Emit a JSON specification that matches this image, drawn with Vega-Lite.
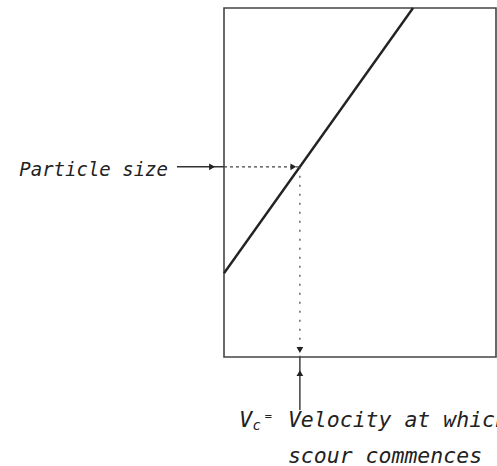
{
  "$schema": "https://vega.github.io/schema/vega-lite/v6.json",
  "width": 272,
  "height": 349,
  "autosize": "none",
  "padding": {"left": 224, "top": 8, "right": 1, "bottom": 109},
  "background": "white",
  "config": {"view": {"stroke": "#444", "strokeWidth": 1.6}},
  "encoding": {
    "x": {"field": "velocity", "type": "quantitative", "scale": {"domain": [0, 10], "nice": false, "zero": false}, "axis": null},
    "y": {"field": "size", "type": "quantitative", "scale": {"domain": [0, 10], "nice": false, "zero": false}, "axis": null}
  },
  "layer": [
    {
      "data": {"values": [{"velocity": 0, "size": 2.4}, {"velocity": 6.95, "size": 10}]},
      "mark": {"type": "line", "color": "#222", "strokeWidth": 2.4}
    },
    {
      "data": {"values": [{"velocity": -1.73, "size": 5.45}, {"velocity": 0, "size": 5.45}]},
      "mark": {"type": "line", "color": "#333", "strokeWidth": 1.4}
    },
    {
      "data": {"values": [{"velocity": 0, "size": 5.45}, {"velocity": 2.79, "size": 5.45}]},
      "mark": {"type": "line", "color": "#444", "strokeWidth": 1.2, "strokeDash": [3, 3]}
    },
    {
      "data": {"values": [{"velocity": 2.79, "size": 5.45}, {"velocity": 2.79, "size": 0}]},
      "mark": {"type": "line", "color": "#444", "strokeWidth": 1.2, "strokeDash": [2, 7]}
    },
    {
      "data": {"values": [{"velocity": 2.79, "size": 0}, {"velocity": 2.79, "size": -1.52}]},
      "mark": {"type": "line", "color": "#333", "strokeWidth": 1.4}
    },
    {
      "data": {"values": [{"velocity": -0.44, "size": 5.45}, {"velocity": 2.55, "size": 5.45}]},
      "mark": {"type": "point", "shape": "triangle-right", "filled": true, "color": "#222", "size": 45, "opacity": 1}
    },
    {
      "data": {"values": [{"velocity": 2.79, "size": 0.2}]},
      "mark": {"type": "point", "shape": "triangle-down", "filled": true, "color": "#222", "size": 45, "opacity": 1}
    },
    {
      "data": {"values": [{"velocity": 2.79, "size": -0.46}]},
      "mark": {"type": "point", "shape": "triangle-up", "filled": true, "color": "#222", "size": 45, "opacity": 1}
    },
    {
      "data": {"values": [{"velocity": -2.06, "size": 5.36, "label": "Particle size"}]},
      "mark": {"type": "text", "align": "right", "baseline": "middle", "font": "DejaVu Sans Mono", "fontStyle": "italic", "fontSize": 19, "color": "#222"},
      "encoding": {"text": {"field": "label"}}
    },
    {
      "data": {"values": [{"velocity": 2.35, "size": -2.0, "label": "Velocity at which"}, {"velocity": 2.35, "size": -3.03, "label": "scour commences"}]},
      "mark": {"type": "text", "align": "left", "baseline": "alphabetic", "font": "DejaVu Sans Mono", "fontStyle": "italic", "fontSize": 21.5, "color": "#222"},
      "encoding": {"text": {"field": "label"}}
    },
    {
      "data": {"values": [{"velocity": 0.55, "size": -2.0, "label": "V"}]},
      "mark": {"type": "text", "align": "left", "baseline": "alphabetic", "font": "DejaVu Sans Mono", "fontStyle": "italic", "fontSize": 22, "color": "#222"},
      "encoding": {"text": {"field": "label"}}
    },
    {
      "data": {"values": [{"velocity": 1.05, "size": -2.09, "label": "c"}]},
      "mark": {"type": "text", "align": "left", "baseline": "alphabetic", "font": "DejaVu Sans Mono", "fontStyle": "italic", "fontSize": 14, "color": "#222"},
      "encoding": {"text": {"field": "label"}}
    },
    {
      "data": {"values": [{"velocity": 1.5, "size": -1.8, "label": "="}]},
      "mark": {"type": "text", "align": "left", "baseline": "alphabetic", "font": "DejaVu Sans Mono", "fontSize": 12, "color": "#222"},
      "encoding": {"text": {"field": "label"}}
    }
  ]
}
